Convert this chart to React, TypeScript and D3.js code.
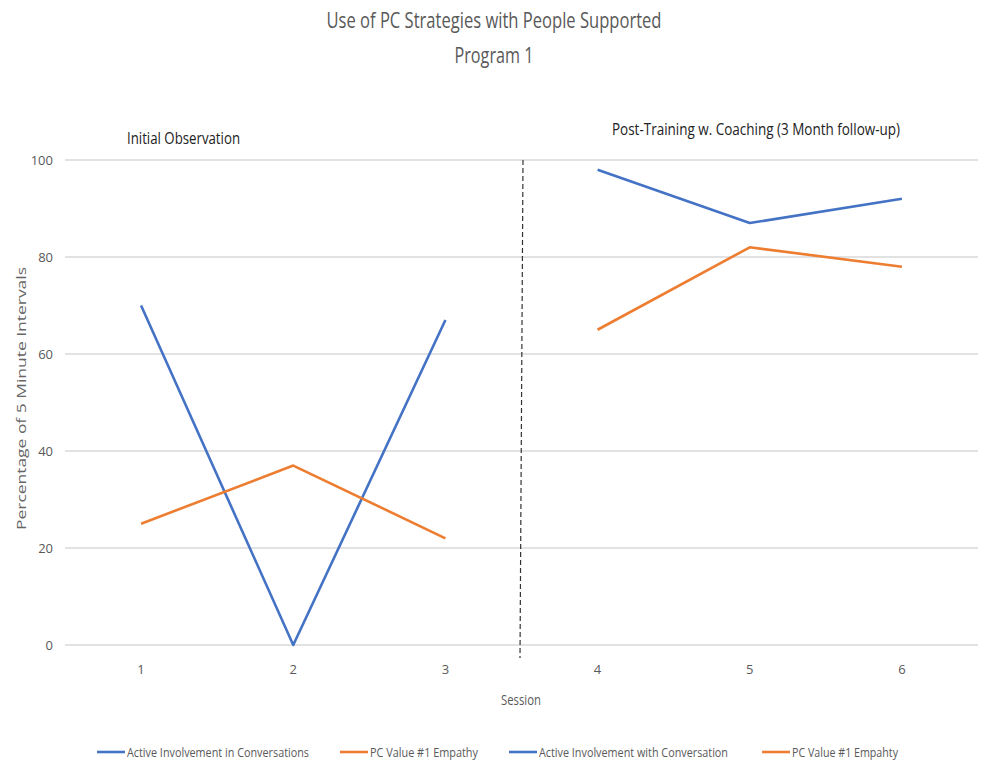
import React from "react";
import * as d3 from "d3";

// Sessions and observed percentages per phase
const sessions = ["1", "2", "3", "4", "5", "6"];
const initialSessions = ["1", "2", "3"];
const followupSessions = ["4", "5", "6"];
const activeInitial = [70, 0, 67];
const empathyInitial = [25, 37, 22];
const activeFollowup = [98, 87, 92];
const empathyFollowup = [65, 82, 78];
const yTicks = [0, 20, 40, 60, 80, 100];

const legendItems = [
  { label: "Active Involvement in Conversations", color: "#4472C4", x: 97, w: 182 },
  { label: "PC Value #1 Empathy", color: "#ED7D31", x: 340, w: 108 },
  { label: "Active Involvement with Conversation", color: "#4472C4", x: 509, w: 189 },
  { label: "PC Value #1 Empahty", color: "#ED7D31", x: 762, w: 106 },
];

const BLUE = "#4472C4";
const ORANGE = "#ED7D31";
const TEXT = "#595959";
const FONT = "'Liberation Sans Narrow', 'Arial Narrow', 'Open Sans', sans-serif";

export default function App() {
  const width = 983;
  const height = 763;
  const x = d3.scaleBand<string>().domain(sessions).range([65, 978]).padding(0);
  const y = d3.scaleLinear().domain([0, 100]).range([645, 160]);
  const cx = (s: string) => (x(s) ?? 0) + x.bandwidth() / 2;

  const line = d3
    .line<[string, number]>()
    .x((d) => cx(d[0]))
    .y((d) => y(d[1]));

  const series = [
    { keys: initialSessions, values: activeInitial, color: BLUE },
    { keys: initialSessions, values: empathyInitial, color: ORANGE },
    { keys: followupSessions, values: activeFollowup, color: BLUE },
    { keys: followupSessions, values: empathyFollowup, color: ORANGE },
  ];

  const divider = (cx("3") + cx("4")) / 2;

  return (
    <svg
      width={width}
      height={height}
      style={{ position: "absolute", left: 0, top: 0, background: "#fff" }}
      fontFamily={FONT}
    >
      {/* Title */}
      <text x={494} y={28} textAnchor="middle" fontSize={21} fill={TEXT} textLength={335} lengthAdjust="spacingAndGlyphs">
        Use of PC Strategies with People Supported
      </text>
      <text x={494} y={63} textAnchor="middle" fontSize={21} fill={TEXT} textLength={79} lengthAdjust="spacingAndGlyphs">
        Program 1
      </text>

      {/* Gridlines */}
      {yTicks.map((t) => (
        <line key={t} x1={65} x2={978} y1={y(t)} y2={y(t)} stroke="#d9d9d9" strokeWidth={1.3} />
      ))}

      {/* Y tick labels */}
      {yTicks.map((t) => (
        <text key={"l" + t} x={53} y={y(t) + 4.5} textAnchor="end" fontSize={13} fill={TEXT}>
          {t}
        </text>
      ))}

      {/* Y axis title */}
      <text
        transform={`translate(26,${(y(0) + y(100)) / 2 - 4}) rotate(-90)`}
        textAnchor="middle"
        fontSize={13}
        fill="#666"
        textLength={263}
        lengthAdjust="spacingAndGlyphs"
      >
        Percentage of 5 Minute Intervals
      </text>

      {/* X tick labels */}
      {sessions.map((s) => (
        <text key={"x" + s} x={cx(s)} y={674} textAnchor="middle" fontSize={13} fill={TEXT}>
          {s}
        </text>
      ))}
      <text x={521} y={705} textAnchor="middle" fontSize={14} fill={TEXT} textLength={40} lengthAdjust="spacingAndGlyphs">
        Session
      </text>

      {/* Phase divider */}
      <line x1={divider + 1.5} x2={divider - 1.5} y1={160} y2={658} stroke="#333" strokeWidth={1.2} strokeDasharray="5,3" />

      {/* Phase annotations */}
      <text x={127} y={144} fontSize={16} fill="#222" textLength={113} lengthAdjust="spacingAndGlyphs">
        Initial Observation
      </text>
      <text x={612} y={135} fontSize={16} fill="#222" textLength={288} lengthAdjust="spacingAndGlyphs">
        Post-Training w. Coaching (3 Month follow-up)
      </text>

      {/* Series lines */}
      {series.map((s, i) => (
        <path
          key={i}
          d={line(s.keys.map((k, j) => [k, s.values[j]] as [string, number])) ?? ""}
          fill="none"
          stroke={s.color}
          strokeWidth={2.6}
          strokeLinejoin="round"
        />
      ))}

      {/* Legend */}
      {legendItems.map((it) => (
        <g key={it.label}>
          <line x1={it.x} x2={it.x + 28} y1={752} y2={752} stroke={it.color} strokeWidth={2.6} />
          <text x={it.x + 30} y={756.5} fontSize={13} fill={TEXT} textLength={it.w} lengthAdjust="spacingAndGlyphs">
            {it.label}
          </text>
        </g>
      ))}
    </svg>
  );
}
